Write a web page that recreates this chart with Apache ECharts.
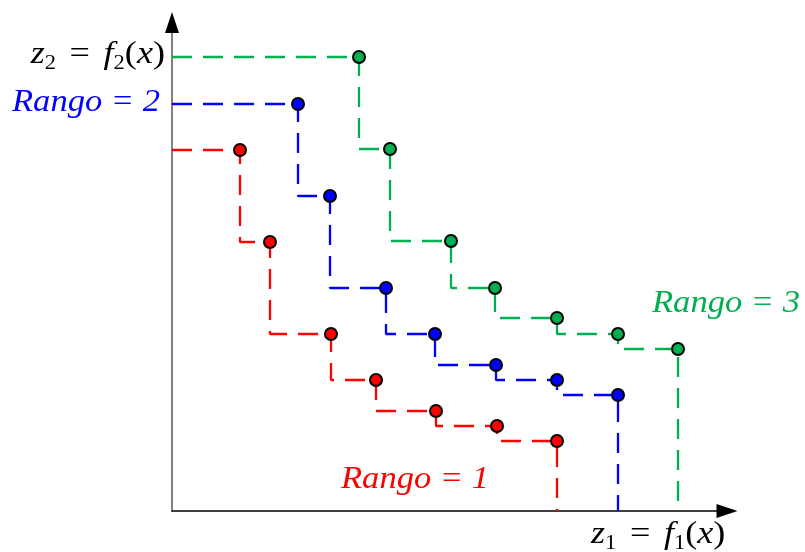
<!DOCTYPE html>
<html>
<head>
<meta charset="utf-8">
<script src="https://cdn.jsdelivr.net/npm/echarts@6/dist/echarts.min.js"></script>
<style>
  html, body { margin: 0; padding: 0; background: #fff; }
  #chart { width: 805px; height: 552px; }
</style>
</head>
<body>
<div id="chart"></div>
<script>
// puntos de cada rango (z1, z2)
const redX   = [6.8, 9.8, 15.9, 20.4, 26.4, 32.5, 38.5]
const redY   = [36.1, 26.9, 17.7, 13.1, 10.0, 8.5, 7.0]
const blueX  = [12.6, 15.8, 21.4, 26.3, 32.4, 38.5, 44.6]
const blueY  = [40.7, 31.5, 22.3, 17.7, 14.6, 13.1, 11.6]
const greenX = [18.7, 21.8, 27.9, 32.3, 38.5, 44.6, 50.6]
const greenY = [45.4, 36.2, 27.0, 22.3, 19.3, 17.7, 16.2]

const RED = '#ff0000'
const BLUE = '#0000ff'
const GREEN = '#00b050'

const chart = echarts.init(document.getElementById('chart'))

// escalera: desde el eje z2 hasta el ultimo punto y bajando al eje z1
function stairs(xs, ys) {
  const d = [[0, ys[0]]]
  xs.forEach((x, i) => d.push([x, ys[i]]))
  d.push([xs[xs.length - 1], 0])
  return d
}
function dots(xs, ys) {
  return xs.map((x, i) => [x, ys[i]])
}
function lineSeries(xs, ys, color) {
  return {
    type: 'line',
    step: 'start',
    data: stairs(xs, ys),
    showSymbol: false,
    lineStyle: { color: color, width: 2.3, type: [20, 11] },
    z: 2,
    silent: true
  }
}
function dotSeries(xs, ys, color) {
  return {
    type: 'scatter',
    data: dots(xs, ys),
    symbolSize: 12,
    itemStyle: { color: color, borderColor: '#000', borderWidth: 2, opacity: 1 },
    z: 3,
    silent: true
  }
}

const serif = '"Liberation Serif", "Times New Roman", serif'
const eqRich = {
  i: { fontFamily: serif, fontStyle: 'italic', fontSize: 32, lineHeight: 38, color: '#000' },
  n: { fontFamily: serif, fontSize: 32, lineHeight: 38, color: '#000' },
  eq: { fontFamily: serif, fontSize: 32, lineHeight: 38, color: '#000', padding: [0, 12, 0, 12] },
  s: { fontFamily: serif, fontSize: 20, lineHeight: 20, color: '#000', verticalAlign: 'bottom' }
}
function rango(txt, color, x, y) {
  return {
    type: 'text',
    x: x,
    y: y,
    scaleX: 1.08,
    style: {
      text: txt,
      fill: color,
      font: 'italic 32px ' + serif,
      textVerticalAlign: 'middle'
    }
  }
}

chart.setOption({
  animation: false,
  grid: { left: 172, right: 78, top: 22.5, bottom: 41 },
  xAxis: {
    type: 'value',
    min: 0,
    max: 55.5,
    axisLine: {
      lineStyle: { color: '#000', width: 1.5 },
      symbol: ['none', 'triangle'],
      symbolSize: [14, 21]
    },
    axisTick: { show: false },
    axisLabel: { show: false },
    splitLine: { show: false }
  },
  yAxis: [
    {
      type: 'value',
      min: 0,
      max: 48.85,
      axisLine: { show: true, lineStyle: { color: '#808080', width: 2 } },
      axisTick: { show: false },
      axisLabel: { show: false },
      splitLine: { show: false }
    },
    {
      // solo la flecha negra del eje z2
      type: 'value',
      position: 'left',
      min: 0,
      max: 48.85,
      axisLine: {
        show: true,
        lineStyle: { color: '#000', width: 2, opacity: 0 },
        symbol: ['none', 'triangle'],
        symbolSize: [14, 21]
      },
      axisTick: { show: false },
      axisLabel: { show: false },
      splitLine: { show: false }
    }
  ],
  series: [
    lineSeries(redX, redY, RED),
    lineSeries(blueX, blueY, BLUE),
    lineSeries(greenX, greenY, GREEN),
    dotSeries(redX, redY, RED),
    dotSeries(blueX, blueY, BLUE),
    dotSeries(greenX, greenY, GREEN)
  ],
  graphic: [
    {
      type: 'text',
      x: 165,
      y: 55,
      scaleX: 1.13,
      style: {
        text: '{i|z}{s|2}{eq|=}{i|f}{s|2}{n|(}{i|x}{n|)}',
        rich: eqRich,
        textAlign: 'right',
        textVerticalAlign: 'middle'
      }
    },
    {
      type: 'text',
      x: 591,
      y: 535,
      scaleX: 1.13,
      style: {
        text: '{i|z}{s|1}{eq|=}{i|f}{s|1}{n|(}{i|x}{n|)}',
        rich: eqRich,
        textAlign: 'left',
        textVerticalAlign: 'middle'
      }
    },
    rango('Rango = 2', BLUE, 12, 103),
    rango('Rango = 3', GREEN, 652, 304),
    rango('Rango = 1', RED, 341, 480)
  ]
})
</script>
</body>
</html>
